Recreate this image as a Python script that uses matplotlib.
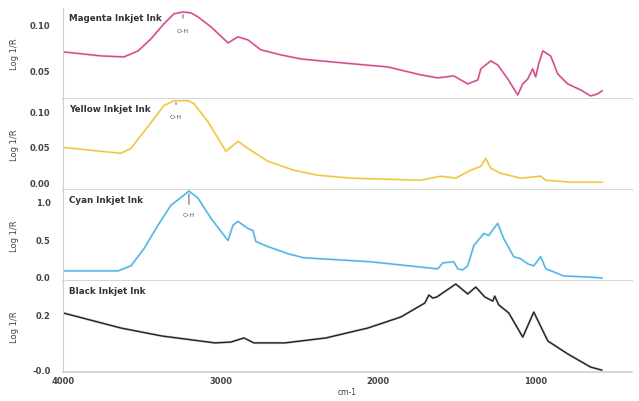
import matplotlib
matplotlib.use("Agg")
import matplotlib.pyplot as plt

# ---- data (wavenumber, cm-1 ; Log 1/R) ----
mag_wn = [4000, 3759, 3613, 3524, 3442, 3360, 3296, 3239, 3188, 3144, 3061, 2953, 2890, 2827,
          2744, 2618, 2491, 2364, 2155, 1939, 1730, 1622, 1521, 1432, 1368, 1349, 1286, 1242,
          1178, 1115, 1083, 1051, 1020, 1001, 982, 956, 906, 861, 798, 715, 652, 608, 580]
mag_v = [0.0707, 0.0663, 0.0652, 0.0717, 0.0848, 0.1011, 0.1120, 0.1141, 0.1130, 0.1087, 0.0978,
         0.0804, 0.0870, 0.0837, 0.0728, 0.0674, 0.0630, 0.0609, 0.0576, 0.0543, 0.0457, 0.0424,
         0.0446, 0.0359, 0.0402, 0.0522, 0.0609, 0.0565, 0.0413, 0.0239, 0.0359, 0.0413, 0.0522,
         0.0435, 0.0576, 0.0717, 0.0663, 0.0467, 0.0359, 0.0293, 0.0228, 0.0250, 0.0283]

yel_wn = [4000, 3632, 3569, 3461, 3360, 3296, 3207, 3169, 3081, 2966, 2890, 2827, 2700, 2535,
          2383, 2174, 1730, 1603, 1508, 1413, 1349, 1318, 1286, 1223, 1096, 969, 937, 779, 580]
yel_v = [0.0493, 0.0409, 0.0479, 0.0789, 0.1084, 0.1155, 0.1155, 0.1113, 0.0859, 0.0437, 0.0578,
         0.0479, 0.0296, 0.0169, 0.0099, 0.0057, 0.0028, 0.0085, 0.0057, 0.0169, 0.0225, 0.0338,
         0.0197, 0.0127, 0.0057, 0.0085, 0.0028, 0.0000, 0.0000]

cyan_wn = [4000, 3651, 3569, 3486, 3398, 3315, 3239, 3201, 3144, 3061, 2953, 2922, 2890, 2827,
           2795, 2776, 2700, 2573, 2472, 2364, 2047, 1622, 1590, 1521, 1495, 1464, 1432, 1394,
           1330, 1299, 1242, 1204, 1140, 1096, 1051, 1013, 969, 937, 887, 823, 671, 580]
cyan_v = [0.08, 0.08, 0.147, 0.373, 0.68, 0.947, 1.067, 1.133, 1.04, 0.773, 0.48, 0.68, 0.733,
          0.64, 0.613, 0.467, 0.40, 0.307, 0.253, 0.24, 0.20, 0.107, 0.187, 0.20, 0.107, 0.093,
          0.147, 0.413, 0.573, 0.547, 0.707, 0.507, 0.267, 0.24, 0.173, 0.147, 0.267, 0.107,
          0.067, 0.013, 0.0, -0.013]

blk_wn = [4000, 3632, 3372, 3036, 2935, 2852, 2789, 2592, 2332, 2066, 1857, 1704, 1679, 1654,
          1628, 1508, 1432, 1381, 1324, 1273, 1261, 1235, 1172, 1083, 1013, 924, 798, 652, 582]
blk_v = [0.204, 0.149, 0.120, 0.095, 0.098, 0.113, 0.095, 0.095, 0.113, 0.149, 0.189, 0.240,
         0.269, 0.258, 0.262, 0.309, 0.273, 0.298, 0.262, 0.247, 0.265, 0.233, 0.204, 0.116,
         0.207, 0.102, 0.055, 0.007, -0.004]

titles = ["Magenta Inkjet Ink", "Yellow Inkjet Ink", "Cyan Inkjet Ink", "Black Inkjet Ink"]
colors = ["#d4468c", "#f0c53a", "#4bb3e3", "#222222"]
ylims = [(0.0196, 0.1185), (-0.011, 0.118), (-0.053, 1.147), (-0.011, 0.32)]
yticks = [[0.05, 0.10], [0.00, 0.05, 0.10], [0.0, 0.5, 1.0], [0.0, 0.2]]
yticklabels = [["0.05", "0.10"], ["0.00", "0.05", "0.10"], ["0.0", "0.5", "1.0"], ["-0.0", "0.2"]]
xticks = [4000, 3000, 2000, 1000]
xticklabels = ["4000", "3000", "2000", "1000"]

# O-H annotations: (wn, line top, line bottom, text y)
oh = [(3239, 0.1141, 0.1043, 0.0935), (3283, 0.1170, 0.1060, 0.0930), (3201, 1.133, 0.92, 0.83), None]

series = [(mag_wn, mag_v), (yel_wn, yel_v), (cyan_wn, cyan_v), (blk_wn, blk_v)]

fig = plt.figure(figsize=(6.39, 4.02), dpi=100)
fig.subplots_adjust(left=0.0986, right=0.989, bottom=0.072, top=0.978, hspace=0)
axes = fig.subplots(4, 1, sharex=True)

spine_c = "#d0d0d0"
for i, ax in enumerate(axes):
    wn, v = series[i]
    ax.plot(wn, v, color=colors[i], lw=1.8, alpha=0.22, solid_joinstyle="round")
    ax.plot(wn, v, color=colors[i], lw=1.0, solid_joinstyle="round")
    ax.set_xlim(4000, 390)
    ax.set_ylim(*ylims[i])
    ax.set_yticks(yticks[i])
    ax.set_yticklabels(yticklabels[i], fontsize=6, color="#444444", fontweight="bold")
    ax.set_ylabel("Log 1/R", fontsize=6, color="#444444")
    ax.yaxis.set_label_coords(-0.078, 0.5)
    ax.tick_params(axis="y", length=0, pad=9)
    ax.tick_params(axis="x", length=0, pad=3)
    for s in ["top", "right"]:
        ax.spines[s].set_visible(False)
    ax.spines["left"].set_color(spine_c)
    ax.spines["bottom"].set_color(spine_c)
    ax.spines["left"].set_linewidth(0.8)
    ax.spines["bottom"].set_linewidth(1.2)
    ax.text(0.01, 0.94, titles[i], transform=ax.transAxes, fontsize=6.3,
            fontweight="bold", color="#333333", va="top", ha="left")
    if oh[i] is not None:
        x, top, bot, ty = oh[i]
        ax.annotate("", xy=(x, top), xytext=(x, bot),
                    arrowprops=dict(arrowstyle="-", color="#555555", lw=0.7))
        ax.text(x, ty, "O-H", fontsize=4.5, color="#555555", ha="center", va="center")

axes[-1].set_xticks(xticks)
axes[-1].set_xticklabels(xticklabels, fontsize=6, color="#444444", fontweight="bold")
axes[-1].set_xlabel("cm-1", fontsize=5.5, color="#444444", labelpad=1)

fig.savefig("out.png", dpi=100)
